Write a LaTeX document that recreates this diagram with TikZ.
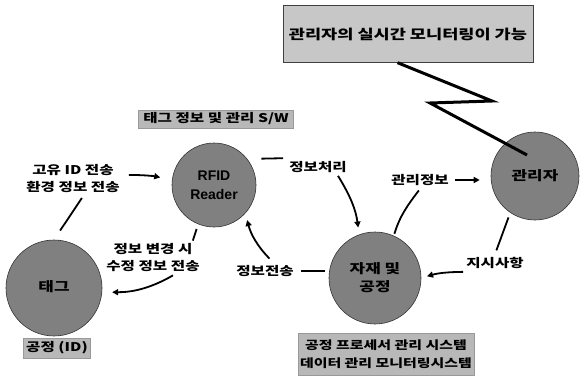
\documentclass[tikz,border=0pt]{standalone}
\usepackage{fontspec}
\setmainfont{Liberation Sans}
\newfontfamily\kr{Noto Sans CJK KR}[FakeStretch=1.3]
\usetikzlibrary{arrows.meta}

\begin{document}
\begin{tikzpicture}[x=1pt, y=1pt,
		bubble/.style={circle, draw=black!80, line width=0.6pt, fill=black!50, inner sep=0pt, align=center,
			font=\kr\bfseries\fontsize{13}{18}\selectfont},
		tagbox/.style={draw=black!40, fill=black!28, inner sep=2pt, align=center,
			font=\kr\bfseries\fontsize{12}{18}\selectfont},
		lbl/.style={align=center, inner sep=3pt, font=\kr\bfseries\fontsize{12}{17}\selectfont},
		link/.style={line width=1.8pt},
		arr/.style={link, -{Triangle[length=6pt,width=6pt]}},
		bolt/.style={line width=3pt}]
			%%%%% START %%%%%
			\useasboundingbox (0,0) rectangle (584,376);
			
			\node[tagbox, minimum width=250pt, minimum height=57pt, draw=black!75, fill=black!22,
				font=\kr\bfseries\fontsize{13.5}{18}\selectfont] (mon) at (408,342) {관리자의 실시간 모니터링이 가능};
			\node[tagbox, minimum width=155pt, minimum height=18pt] (sw) at (216,257) {태그 정보 및 관리 S/W};
			\node[tagbox, minimum width=67pt, minimum height=20pt] (pid) at (57,28) {공정 (ID)};
			\node[tagbox, minimum width=172pt, minimum height=42pt,
				font=\kr\bfseries\fontsize{11.5}{18}\selectfont] (sys) at (386,22) {공정 프로세서 관리 시스템\\데이터 관리 모니터링시스템};
			
			\node[bubble, minimum size=84pt, font=\bfseries\fontsize{14}{19}\selectfont] (rfid) at (214,191) {RFID\\Reader};
			\node[bubble, minimum size=88pt] (admin) at (535,200) {관리자};
			\node[bubble, minimum size=92pt] (mat) at (375,98) {자재 및\\공정};
			\node[bubble, minimum size=96pt] (tag) at (54,88) {\raisebox{4pt}{태그}};
			
			\node[lbl] (send) at (73,197) {고유 ID 전송\\환경 정보 전송};
			\node[lbl] (chg) at (153,118) {정보 변경 시\\수정 정보 전송};
			\node[lbl] (proc) at (318,209) {정보처리};
			\node[lbl] (back) at (265,105) {정보전송};
			\node[lbl] (mgmt) at (420,196) {관리정보};
			\node[lbl] (cmd) at (495,113) {지시사항};
			
			% lightning
			\coordinate (z1) at (492,275);
			\coordinate (z2) at (430,273);
			\coordinate (z3) at (527,221);
			\draw[bolt] (mon.250) -- (z1) -- (z2) -- (z3);
			
			% tag side
			\draw[arr, shorten <=6pt, shorten >=12pt] ([yshift=4pt]send.east) to[bend left=6] (rfid.173);
			\draw[link, shorten <=2pt, shorten >=11pt] ([xshift=10pt]send.south) -- (tag.north);
			\draw[link, shorten <=5pt] (rfid.248) -- ([xshift=-10pt]chg.north east);
			\draw[arr, shorten >=10pt] ([xshift=20pt]chg.south) to[out=210, in=0] (tag.-5);
			
			% process side
			\draw[arr, shorten <=5pt, shorten >=7pt] ([xshift=8pt]back.north) to[bend left=15] (rfid.-42);
			\draw[link, shorten <=4pt, shorten >=4pt] (back.east) -- (back.east -| mat.west);
			\draw[link, shorten <=14pt, shorten >=3pt] (rfid.38) -- (proc.north west);
			\draw[arr, shorten >=7pt] ([xshift=20pt]proc.south) to[bend left=12] (mat.110);
			
			% admin side
			\draw[link, shorten <=2pt, shorten >=2pt] (mat.66) to[out=73, in=-127] (mgmt.south);
			\draw[arr, shorten <=3pt, shorten >=11pt] (mgmt.east) -- (mgmt.east -| admin.west);
			\draw[link, shorten <=5pt, shorten >=4pt] (admin.236) -- (cmd.north);
			\draw[arr, shorten >=6pt] (cmd.south west) to[bend right=8] (mat.east);
			
			%%%%% END %%%%%
		\end{tikzpicture}
\end{document}
